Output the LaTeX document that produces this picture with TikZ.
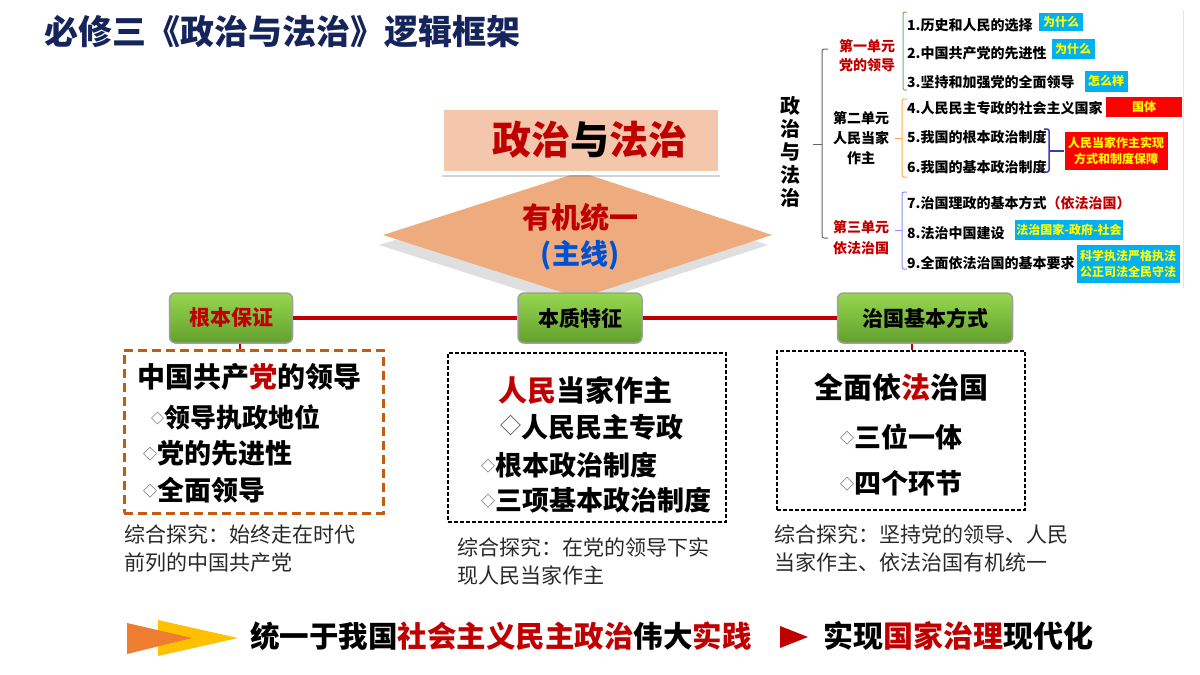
\documentclass[tikz,border=0pt]{standalone}
\usepackage{fontspec}
\setmainfont{Noto Sans CJK SC}
\usetikzlibrary{shadows}
\definecolor{navy}{RGB}{22,36,92}
\definecolor{dred}{RGB}{192,0,0}
\definecolor{peach}{RGB}{244,198,172}
\definecolor{rhomb}{RGB}{238,172,126}
\definecolor{skyblue}{RGB}{0,176,240}
\definecolor{tagyellow}{RGB}{255,255,0}
\definecolor{rust}{RGB}{197,90,17}
\definecolor{arrorange}{RGB}{237,125,49}
\definecolor{arryellow}{RGB}{255,192,0}
\definecolor{pblue}{RGB}{0,80,210}
\definecolor{note}{RGB}{40,40,40}
\definecolor{grtop}{RGB}{150,215,80}
\definecolor{grbot}{RGB}{98,160,45}
\newcommand{\fsz}[2]{\fontsize{#1}{#2}\selectfont}
\newcommand{\dia}[1][14]{{\mdseries\fsz{#1}{#1}\color{gray!60!black}\raisebox{4pt}{◇}}}
\tikzset{
  txt/.style={inner sep=0pt, anchor=west},
  item/.style={txt, font=\fsz{14}{16}\bfseries},
  unit/.style={inner sep=0pt, align=center, font=\fsz{14}{19}\bfseries},
  tag/.style={fill=skyblue, text=tagyellow, inner sep=0pt, align=center, font=\fsz{12}{16}\bfseries},
  greenbox/.style={draw=gray!75, line width=1.5pt, rounded corners=6pt, top color=grtop, bottom color=grbot,
    minimum height=50pt, font=\fsz{21}{21}\bfseries, inner sep=0pt},
  dashbox/.style={draw, line width=1.1pt, dash pattern=on 4pt off 2pt, inner sep=0pt},
  big/.style={txt, font=\fsz{29}{29}\bfseries},
  sub/.style={txt, font=\fsz{27}{27}\bfseries},
  comment/.style={txt, align=left, text=note, font=\fsz{21}{28}},
}
\begin{document}
\begin{tikzpicture}[x=1pt, y=-1pt]
\useasboundingbox (0,0) rectangle (1200,675);

% title
\node[txt, text=navy, font=\fsz{34}{34}\bfseries] (title) at (44,32) {必修三《政治与法治》逻辑框架};

% tree at the top right
\draw[gray!20] (1183,10) -- (1183,288);
\node[inner sep=0pt, align=center, font=\fsz{20}{23}\bfseries] (root) at (790,152) {政\\治\\与\\法\\治};
\draw[gray!80!black, line width=1pt, rounded corners=2pt] (828,49) -- (822,49) -- (822,238) -- (828,238);
\draw[gray!80!black, line width=1pt] (822,144) -- (813,144);
\node[unit, text=dred] (u1) at (867,56) {第一单元\\党的领导};
\node[unit, font=\fsz{14}{20}\bfseries] (u2) at (861,138) {第二单元\\人民当家\\作主};
\node[unit, text=dred, font=\fsz{14}{21}\bfseries] (u3) at (861,238) {第三单元\\依法治国};

\draw[green!55!black!60, line width=1pt, rounded corners=2pt] (907,12) -- (903,12) -- (903,90) -- (907,90);
\draw[orange!70, line width=1pt, rounded corners=2pt] (907,99) -- (902,99) -- (902,177) -- (907,177);
\draw[orange!70, line width=1pt] (902,138) -- (895,138);
\draw[blue!45, line width=1pt, rounded corners=2pt] (907,192) -- (902,192) -- (902,269) -- (907,269);
\draw[blue!45, line width=1pt] (902,230) -- (895,230);

\node[item] (i1) at (907,25) {1.历史和人民的选择};
\node[item] (i2) at (907,53) {2.中国共产党的先进性};
\node[item] (i3) at (907,82) {3.坚持和加强党的全面领导};
\node[item] (i4) at (907,108) {4.人民民主专政的社会主义国家};
\node[item] (i5) at (907,137) {5.我国的根本政治制度};
\node[item] (i6) at (907,167) {6.我国的基本政治制度};
\node[item] (i7) at (907,203) {7.治国理政的基本方式{\color{dred}（依法治国）}};
\node[item] (i8) at (907,233) {8.法治中国建设};
\node[item] (i9) at (907,263) {9.全面依法治国的基本要求};

\node[tag, minimum width=44pt, minimum height=18pt] (t1) at (1061,22) {为什么};
\node[tag, minimum width=43pt, minimum height=20pt] (t2) at (1073,49) {为什么};
\node[tag, minimum width=43pt, minimum height=21pt] (t3) at (1106,81) {怎么样};
\node[tag, fill=red, minimum width=76pt, minimum height=20pt] (t4) at (1144,107) {国体};
\node[tag, fill=red, minimum width=103pt, minimum height=38pt] (t5) at (1116,151) {人民当家作主实现\\方式和制度保障};
\node[tag, minimum width=108pt, minimum height=20pt] (t6) at (1069,230) {法治国家-政府-社会};
\node[tag, minimum width=103pt, minimum height=38pt] (t7) at (1128,264) {科学执法严格执法\\公正司法全民守法};
\draw[blue!55!gray, line width=1.5pt, rounded corners=2pt] (1044,129) -- (1049,129) -- (1049,172) -- (1044,172);
\draw[blue!55!gray, line width=1.5pt] (1049,151) -- (t5.west);

% main line
\fill[rhomb, drop shadow={shadow xshift=-4pt, shadow yshift=-10pt, opacity=0.25}]
  (383,235) -- (580,172) -- (772,235) -- (580,298) -- cycle;
\node[fill=peach, draw=white, line width=4pt, minimum width=278pt, minimum height=65pt, inner sep=0pt,
  drop shadow={shadow xshift=0pt, shadow yshift=-4pt, opacity=0.35},
  font=\fsz{39}{39}\bfseries] (main) at (581,140) {\hspace*{18pt}{\color{dred}政治}与{\color{dred}法治}};
\node[inner sep=0pt, text=dred, font=\fsz{29}{29}\bfseries] (unity) at (580,217) {有机统一};
\node[inner sep=0pt, text=pblue, font=\fsz{28}{28}\bfseries] (mainline) at (580,255) {(主线)};

% three aspects
\node[greenbox, text=dred, minimum width=123pt] (g1) at (231,318) {根本保证};
\node[greenbox, minimum width=124pt] (g2) at (580,318) {本质特征};
\node[greenbox, minimum width=175pt] (g3) at (925,318) {治国基本方式};
\draw[dred, line width=4pt] (g1.east) -- (g2.west) (g2.east) -- (g3.west);

\node[dashbox, draw=rust, line width=3pt, dash pattern=on 9pt off 5pt, minimum width=259pt, minimum height=163pt] (box1) at (253.5,431.5) {};
\node[dashbox, minimum width=278pt, minimum height=169pt] (box2) at (587,437.5) {};
\node[dashbox, minimum width=248pt, minimum height=159pt] (box3) at (901,430.5) {};
\draw[dred, line width=1.5pt] ([xshift=9pt]g1.south) -- ([xshift=9pt]g1.south |- box1.north);
\draw[dred, line width=1.5pt] ([xshift=-13pt]g3.south) -- ([xshift=-13pt]g3.south |- box3.north);

\node[big, font=\fsz{28}{28}\bfseries] (a0) at (137,377) {中国共产{\color{dred}党}的领导};
\node[sub, font=\fsz{26}{26}\bfseries] (a1) at (151,417) {\dia[13]领导执政地位};
\node[sub] (a2) at (143,453) {\dia{}党的先进性};
\node[sub] (a3) at (143,490) {\dia{}全面领导};
\node[comment] (c1) at (124,549) {综合探究：始终走在时代\\前列的中国共产党};

\node[big] (b0) at (498,390) {{\color{dred}人民}当家作主};
\node[sub] (b1) at (500,427) {\dia[21]人民民主专政};
\node[sub] (b2) at (481,465) {\dia{}根本政治制度};
\node[sub] (b3) at (481,500) {\dia{}三项基本政治制度};
\node[comment] (c2) at (457,561) {综合探究：在党的领导下实\\现人民当家作主};

\node[inner sep=0pt, font=\fsz{29}{29}\bfseries] (d0) at (901,387) {全面依{\color{dred}法}治国};
\node[sub] (d1) at (840,437) {\dia{}三位一体};
\node[sub] (d2) at (840,483) {\dia{}四个环节};
\node[comment] (c3) at (774,548) {综合探究：坚持党的领导、人民\\当家作主、依法治国有机统一};

% bottom line
\fill[arryellow] (158,620) -- (238,638) -- (158,656) -- cycle;
\fill[arrorange] (127,623) -- (192,638) -- (127,654) -- cycle;
\node[txt, font=\fsz{29.5}{29.5}\bfseries] (goal) at (250,636)
  {统一于我国{\color{dred}社会主义民主政治}伟大{\color{dred}实践}};
\fill[dred] (780,626) -- (808,637) -- (780,648) -- cycle;
\node[txt, font=\fsz{30}{30}\bfseries] (aim) at (823,636) {实现{\color{dred}国家治理}现代化};
\end{tikzpicture}
\end{document}
